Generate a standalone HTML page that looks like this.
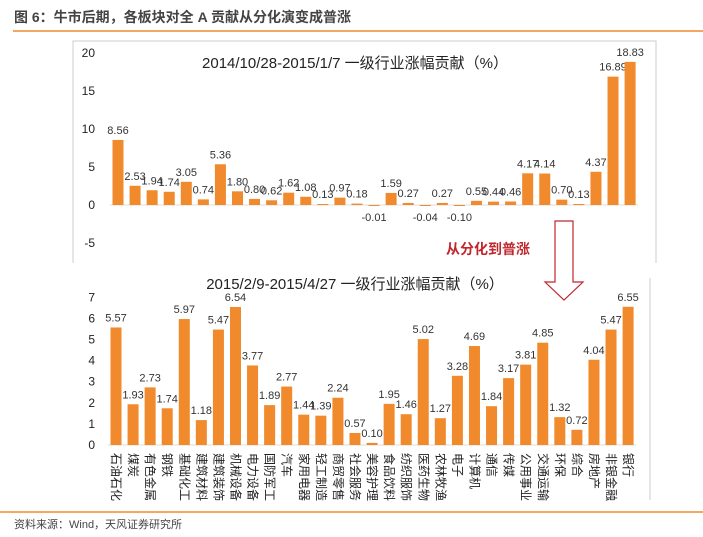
<!DOCTYPE html>
<html><head><meta charset="utf-8"><style>
body{margin:0;width:703px;height:532px;background:#fff;overflow:hidden;font-family:"Liberation Sans","Noto Sans CJK SC",sans-serif}
</style></head><body>
<svg width="703" height="532" xmlns="http://www.w3.org/2000/svg" font-family="Liberation Sans, Noto Sans CJK SC, sans-serif">
<text x="14" y="22" font-size="14" font-weight="bold" fill="#444">图 6：牛市后期，各板块对全 A 贡献从分化演变成普涨</text>
<line x1="13" y1="31" x2="703" y2="31" stroke="#f08a2c" stroke-width="1.5"/>
<path d="M73,263 L73,41 L656,41 L656,263" fill="none" stroke="#ccc"/>
<line x1="650" y1="278" x2="650" y2="500" stroke="#ccc"/>
<line x1="0" y1="512" x2="703" y2="512" stroke="#f08a2c" stroke-width="1.5"/>
<text x="14" y="528" font-size="11" fill="#444">资料来源：Wind，天风证券研究所</text>
<text x="355" y="68" text-anchor="middle" font-size="15" fill="#222">2014/10/28-2015/1/7 一级行业涨幅贡献（%）</text>
<text x="355" y="289" text-anchor="middle" font-size="15" fill="#222">2015/2/9-2015/4/27 一级行业涨幅贡献（%）</text>
<path d="M555,221 L573,221 L573,282 L583,282 L564,300 L545,282 L555,282 Z" fill="#fff" stroke="#c0272d" stroke-width="1.2"/>
<text x="446" y="254" font-size="14" font-weight="bold" fill="#c0272d">从分化到普涨</text>
<g id="top"></g><g id="bot"></g>
</svg>
<script>
const categories=["石油石化","煤炭","有色金属","钢铁","基础化工","建筑材料","建筑装饰","机械设备","电力设备","国防军工","汽车","家用电器","轻工制造","商贸零售","社会服务","美容护理","食品饮料","纺织服饰","医药生物","农林牧渔","电子","计算机","通信","传媒","公用事业","交通运输","环保","综合","房地产","非银金融","银行"];
const topValues=[8.56,2.53,1.94,1.74,3.05,0.74,5.36,1.80,0.80,0.62,1.62,1.08,0.13,0.97,0.18,-0.01,1.59,0.27,-0.04,0.27,-0.10,0.55,0.44,0.46,4.17,4.14,0.70,0.13,4.37,16.89,18.83];
const bottomValues=[5.57,1.93,2.73,1.74,5.97,1.18,5.47,6.54,3.77,1.89,2.77,1.44,1.39,2.24,0.57,0.10,1.95,1.46,5.02,1.27,3.28,4.69,1.84,3.17,3.81,4.85,1.32,0.72,4.04,5.47,6.55];
const topTicks=[-5,0,5,10,15,20];
const bottomTicks=[0,1,2,3,4,5,6,7];
const NS="http://www.w3.org/2000/svg";
function mk(g,tag,a,txt){const e=document.createElementNS(NS,tag);for(const k in a)e.setAttribute(k,a[k]);if(txt!==undefined)e.textContent=txt;g.appendChild(e);return e;}
function draw(gid,vals,ticks,y0,ppu,x0,step,withCats){
 const g=document.getElementById(gid);
 const y=v=>y0-v*ppu, x=i=>x0+i*step;
 ticks.forEach(t=>{const e=mk(g,'text',{x:95,y:y(t)+4,'text-anchor':'end','font-size':12,fill:'#222'},String(t));
  
  });
 mk(g,'line',{x1:x0-8,y1:y0,x2:x(vals.length-1)+8,y2:y0,stroke:'#ddd'});
 vals.forEach((v,i)=>{const top=Math.min(y(v),y0),h=Math.max(Math.abs(v)*ppu,1);
  const r=mk(g,'rect',{x:x(i)-5.5,y:top,width:11,height:h,fill:'#f08a2c'});
  
  
  const ly=v<0?y0+16:y(v)-6;
  const t=mk(g,'text',{x:x(i),y:ly,'text-anchor':'middle','font-size':11,fill:'#333'},v.toFixed(2));
  
  
  if(withCats){const cx=x(i)-4, cy=y0+8;
   const c=mk(g,'text',{x:cx,y:cy,'font-size':12,fill:'#222',transform:'rotate(90 '+cx+' '+cy+')'},categories[i]);
   
   }
 });
}
draw('top',topValues,topTicks,205,7.6,118,17.07,false);
draw('bot',bottomValues,bottomTicks,445,21.1,116,17.07,true);
</script>
</body></html>
